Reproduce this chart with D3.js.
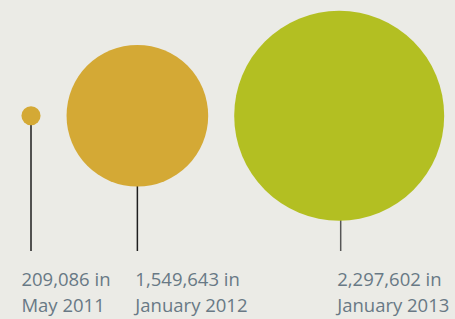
<!DOCTYPE html>
<html><head><meta charset="utf-8">
<script src="https://cdn.jsdelivr.net/npm/d3@7"></script>
<style>html,body{margin:0;padding:0;background:#EBEBE6;}svg{display:block;}</style>
</head><body>
<svg id="c" width="455" height="319"></svg>
<script>
const values = [209086, 1549643, 2297602];
const valueLabels = ["209,086 in", "1,549,643 in", "2,297,602 in"];
const dateLabels = ["May 2011", "January 2012", "January 2013"];
const colors = ["#D4A935", "#D4A935", "#B3BF22"];

const svg = d3.select("#c");
const W = 455, H = 319;
svg.append("rect").attr("width", W).attr("height", H).attr("fill", "#EBEBE6");

const r = d3.scaleLinear().domain([0, d3.max(values)]).range([0, 105]);
const gap = 26, cy = 115.7, firstX = 31, lineEnd = 251;

let cxs = [];
values.forEach((v, i) => {
  if (i === 0) cxs.push(firstX);
  else cxs.push(cxs[i-1] + r(values[i-1]) + gap + r(v));
});

const g = svg.selectAll("g.item").data(values).enter().append("g").attr("class", "item");

g.append("line")
  .attr("x1", (d, i) => cxs[i] + (i === 2 ? 1.5 : 0))
  .attr("x2", (d, i) => cxs[i] + (i === 2 ? 1.5 : 0))
  .attr("y1", cy)
  .attr("y2", lineEnd)
  .attr("stroke", (d, i) => i === 2 ? "#555" : "#1e1e1e")
  .attr("stroke-width", 1.5);

g.append("circle")
  .attr("cx", (d, i) => cxs[i])
  .attr("cy", cy)
  .attr("r", d => r(d))
  .attr("fill", (d, i) => colors[i]);

const t = g.append("text")
  .attr("x", (d, i) => i === 0 ? cxs[i] - r(d) : cxs[i] - 2)
  .attr("y", 285.7)
  .attr("fill", "#687985")
  .style("font-family", "'Open Sans', sans-serif")
  .style("font-size", "18.5px");
t.append("tspan").text((d, i) => valueLabels[i]);
t.append("tspan").attr("x", (d, i) => i === 0 ? cxs[i] - r(d) : cxs[i] - 2).attr("dy", 26).text((d, i) => dateLabels[i]);
</script>
</body></html>
